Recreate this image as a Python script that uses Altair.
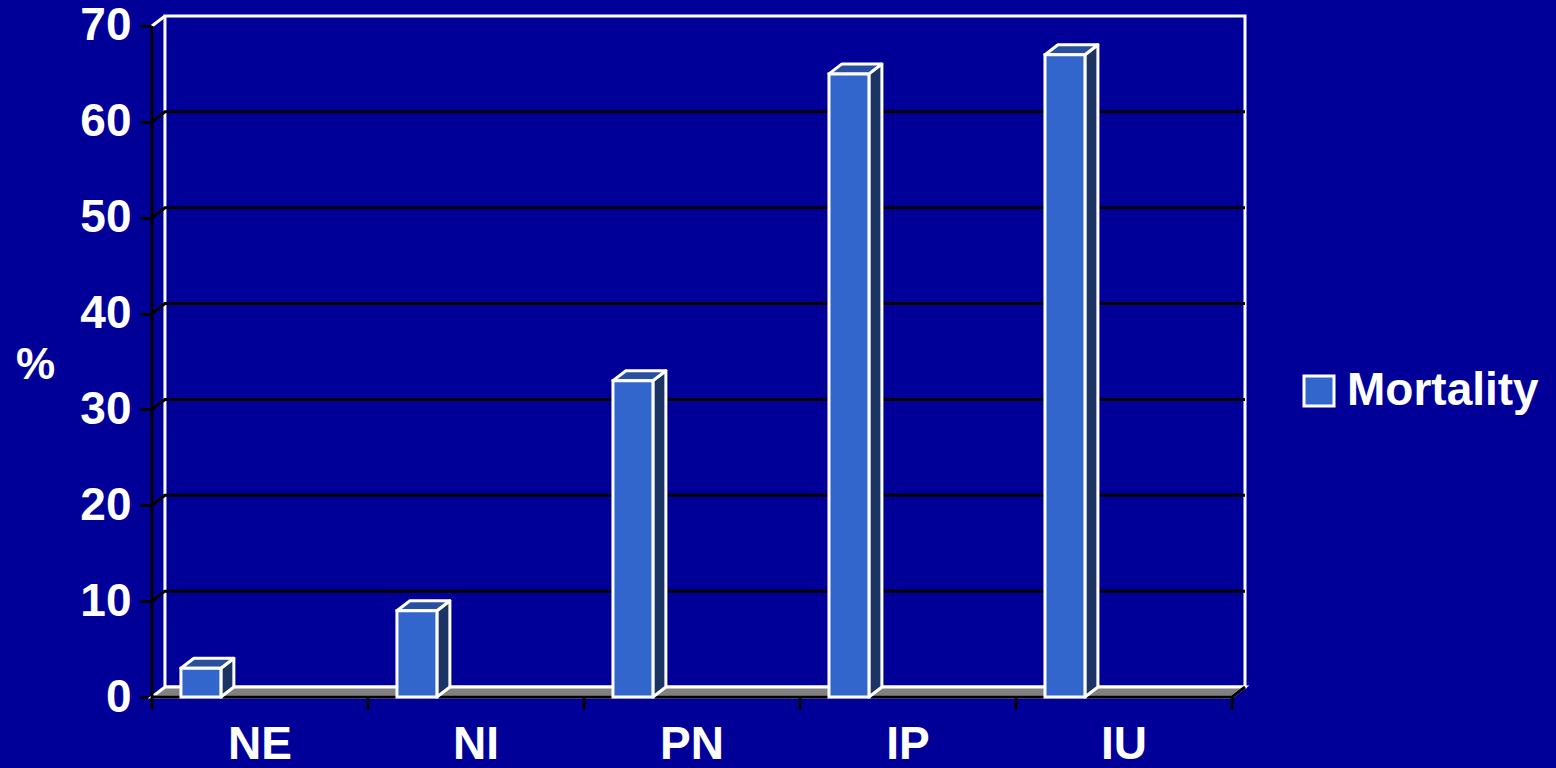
import altair as alt
import pandas as pd

# Mortality (%) by group
categories = ["NE", "NI", "PN", "IP", "IU"]
mortality = [3, 9, 33, 65, 67]
series_name = "Mortality"
y_ticks = [0, 10, 20, 30, 40, 50, 60, 70]

# Pseudo-3D geometry, in data units
DX = 0.06        # depth along x (category units)
DY = 1.04        # depth along y (percent units)
BAR_LEFT = 0.134  # bar start inside each category slot
BAR_W = 0.185     # bar width
Y_TOP = 70
N = len(categories)

BG = "#000099"
FRONT = "#3366CC"
TOPC = "#2A4F9E"
SIDE = "#1C3464"
FLOOR = "#808080"
FONT = "Liberation Sans"

x_scale = alt.Scale(domain=[0, N + DX], nice=False, zero=False)
y_scale = alt.Scale(domain=[0, Y_TOP + DY], nice=False, zero=False)
y_axis = alt.Axis(values=y_ticks, title="%", grid=False, domain=False)


def X(f):
    return alt.X(f, type="quantitative", scale=x_scale, axis=None)


def Y(f):
    return alt.Y(f, type="quantitative", scale=y_scale, axis=y_axis)


# back wall
wall = pd.DataFrame({"x": [DX], "x2": [N + DX], "y": [DY], "y2": [Y_TOP + DY]})
wall_layer = alt.Chart(wall).mark_rect(fill=BG, stroke="white", strokeWidth=3).encode(
    x=X("x"), x2="x2", y=Y("y"), y2="y2"
)

# gridlines: short diagonal from the front axis then across the back wall
grid_rows = []
for v in y_ticks[1:-1]:
    grid_rows += [
        {"v": v, "o": 0, "x": 0, "y": v},
        {"v": v, "o": 1, "x": DX, "y": v + DY},
        {"v": v, "o": 2, "x": N + DX, "y": v + DY},
    ]
grid_layer = alt.Chart(pd.DataFrame(grid_rows)).mark_line(color="black", strokeWidth=3).encode(
    x=X("x"), y=Y("y"), detail="v:N", order="o:Q"
)

top_edge = pd.DataFrame({"x": [0, DX], "y": [Y_TOP, Y_TOP + DY]})
top_edge_layer = alt.Chart(top_edge).mark_line(color="white", strokeWidth=3).encode(
    x=X("x"), y=Y("y")
)

# floor
floor = pd.DataFrame({"y": [0, DY], "x": [0, DX], "x2": [N, N + DX]})
floor_layer = alt.Chart(floor).mark_area(
    orient="horizontal", fill=FLOOR, stroke="white", strokeWidth=3
).encode(y=Y("y"), x=X("x"), x2="x2")

# bars
front_rows, side_rows, top_rows = [], [], []
for i, (c, v) in enumerate(zip(categories, mortality)):
    a = i + BAR_LEFT
    front_rows.append({"cat": c, "series": series_name, "x": a, "x2": a + BAR_W, "y": 0, "y2": v})
    side_rows += [
        {"cat": c, "x": a + BAR_W, "y": 0, "y2": v},
        {"cat": c, "x": a + BAR_W + DX, "y": DY, "y2": v + DY},
    ]
    top_rows += [
        {"cat": c, "y": v, "x": a, "x2": a + BAR_W},
        {"cat": c, "y": v + DY, "x": a + DX, "x2": a + BAR_W + DX},
    ]

side_layer = alt.Chart(pd.DataFrame(side_rows)).mark_area(
    fill=SIDE, stroke="white", strokeWidth=3, strokeJoin="round"
).encode(x=X("x"), y=Y("y"), y2="y2", detail="cat:N")

top_layer = alt.Chart(pd.DataFrame(top_rows)).mark_area(
    orient="horizontal", fill=TOPC, stroke="white", strokeWidth=3, strokeJoin="round"
).encode(y=Y("y"), x=X("x"), x2="x2", detail="cat:N")

front_layer = alt.Chart(pd.DataFrame(front_rows)).mark_rect(
    stroke="white", strokeWidth=3
).encode(
    x=X("x"), x2="x2", y=Y("y"), y2="y2",
    fill=alt.Fill(
        "series:N",
        scale=alt.Scale(domain=[series_name], range=[FRONT]),
        legend=alt.Legend(
            title=None, orient="none", legendX=1144, legendY=352,
            symbolType="square", symbolSize=900, symbolStrokeColor="white",
            symbolStrokeWidth=3, labelFontSize=46, labelFont=FONT,
            labelFontWeight="bold", labelColor="white", labelOffset=5,
            labelLimit=0, padding=0,
        ),
    ),
)

# front axis lines
y_line = pd.DataFrame({"x": [0, 0], "y": [0, Y_TOP]})
y_line_layer = alt.Chart(y_line).mark_line(color="black", strokeWidth=3).encode(x=X("x"), y=Y("y"))

x_line = pd.DataFrame({"o": [0, 1, 2], "x": [0, N, N + DX], "y": [0, 0, DY]})
x_line_layer = alt.Chart(x_line).mark_line(color="black", strokeWidth=3).encode(
    x=X("x"), y=Y("y"), order="o:Q"
)

# category boundary ticks below the axis
ticks = pd.DataFrame({"x": list(range(N + 1))})
ticks_layer = alt.Chart(ticks).mark_rule(color="black", strokeWidth=3).encode(
    x=X("x"), y=alt.value(681), y2=alt.value(694)
)

labels = pd.DataFrame({"cat": categories, "x": [i + 0.5 for i in range(N)]})
labels_layer = alt.Chart(labels).mark_text(
    font=FONT, fontSize=46, fontWeight="bold", color="white", baseline="middle"
).encode(x=X("x"), y=alt.value(729), text="cat:N")

chart = alt.layer(
    wall_layer, grid_layer, top_edge_layer, floor_layer, y_line_layer, x_line_layer,
    side_layer, top_layer, front_layer, ticks_layer, labels_layer,
).properties(
    width=1093, height=681, background=BG,
    padding={"left": 152, "top": 16, "right": 311, "bottom": 71},
    autosize=alt.AutoSizeParams(type="none"),
).configure_view(stroke=None).configure_axis(
    labelFont=FONT, labelFontSize=46, labelFontWeight="bold", labelColor="white",
    labelPadding=9, tickSize=12, tickWidth=3, tickColor="black",
    titleFont=FONT, titleFontSize=44, titleFontWeight="bold", titleColor="white",
    titleAngle=0, titleX=-117, titleY=349, titleAlign="center", titleBaseline="middle",
)

chart.save("out.html", embed_options={"renderer": "svg", "actions": False})
